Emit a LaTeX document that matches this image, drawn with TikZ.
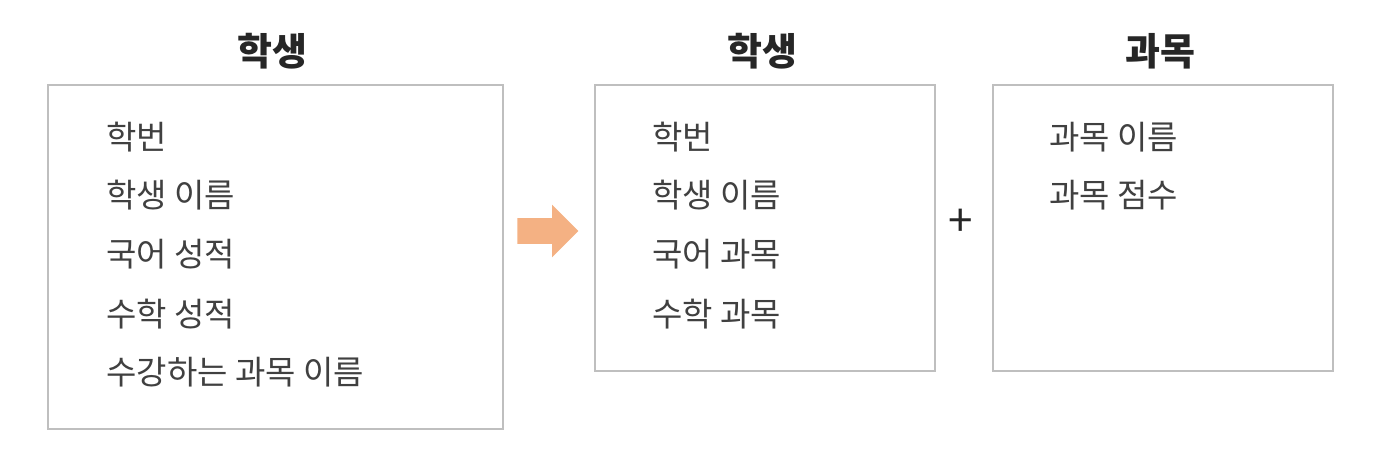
\documentclass[tikz,border=0pt]{standalone}
\usepackage{fontspec}
\setmainfont{Noto Sans CJK KR}
\usepackage{tikz}
\usetikzlibrary{shapes.arrows,positioning}
\definecolor{boxgray}{HTML}{BFBFBF}
\definecolor{itemgray}{HTML}{404040}
\definecolor{ttlgray}{HTML}{262626}
\definecolor{arrorange}{HTML}{F4B183}
\tikzset{
  tblbox/.style={draw=boxgray,line width=1pt,anchor=north west,inner sep=0pt},
  ttlnode/.style={text=ttlgray,font=\fontsize{19}{22}\selectfont\bfseries,inner sep=0pt},
  itemnode/.style={text=itemgray,font=\fontsize{16.5}{19}\selectfont,anchor=west,inner sep=0pt},
  bigarrow/.style={single arrow,fill=arrorange,draw=none,inner xsep=0pt,inner ysep=6.25pt,
    minimum height=30.5pt,single arrow head extend=6.75pt,anchor=tail},
}
\begin{document}
\begin{tikzpicture}[x=0.5pt,y=-0.5pt]
  \useasboundingbox (0,0) rectangle (1386,461);
  % boxes
  \node[tblbox,minimum width=227.5pt,minimum height=172pt] (bxOld) at (47,84) {};
  \node[tblbox,minimum width=170pt,minimum height=143pt] (bxNew) at (594,84) {};
  \node[tblbox,minimum width=170pt,minimum height=143pt] (bxSub) at (992,84) {};
  % titles
  \node[ttlnode] (tOld) at (272,51) {학생};
  \node[ttlnode] (tNew) at (762,51) {학생};
  \node[ttlnode] (tSub) at (1160,51) {과목};
  % items
  \node[itemnode] (o1) at (106,137) {학번};
  \node[itemnode] (o2) at (106,195) {학생 이름};
  \node[itemnode] (o3) at (106,254) {국어 성적};
  \node[itemnode] (o4) at (106,314) {수학 성적};
  \node[itemnode] (o5) at (106,372) {수강하는 과목 이름};
  \node[itemnode] (n1) at (652,137) {학번};
  \node[itemnode] (n2) at (652,195) {학생 이름};
  \node[itemnode] (n3) at (652,254) {국어 과목};
  \node[itemnode] (n4) at (652,314) {수학 과목};
  \node[itemnode] (s1) at (1049,137) {과목 이름};
  \node[itemnode] (s2) at (1049,195) {과목 점수};
  % arrow and plus
  \node[bigarrow] (arr) at (517,231) {};
  \node[text=ttlgray,font=\fontsize{22}{24}\selectfont,inner sep=0pt] (plus) at (961,223) {+};
\end{tikzpicture}
\end{document}
